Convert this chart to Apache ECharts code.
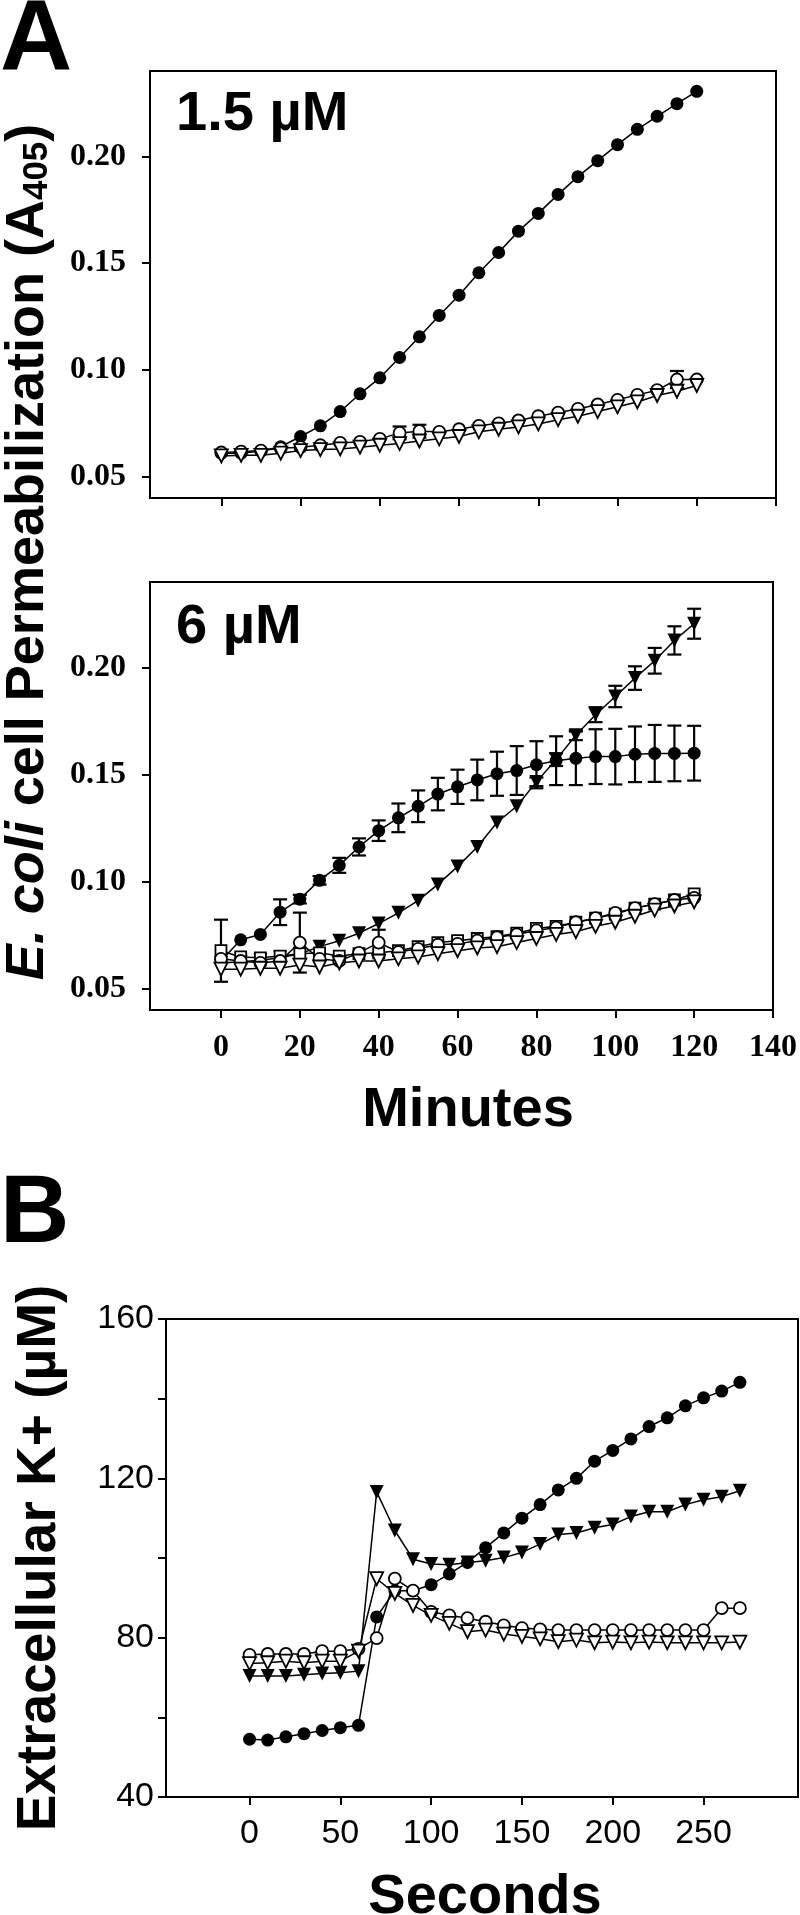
<!DOCTYPE html>
<html>
<head>
<meta charset="utf-8">
<script src="https://cdn.jsdelivr.net/npm/echarts@6/dist/echarts.min.js"></script>
<style>
  html, body { margin: 0; padding: 0; background: #fff; }
  #chart { width: 800px; height: 1915px; }
</style>
</head>
<body>
<div id="chart"></div>
<script>
// time points (minutes for panel A, seconds for panel B)
const tA = [0, 5, 10, 15, 20, 25, 30, 35, 40, 45, 50, 55, 60, 65, 70, 75, 80, 85, 90, 95, 100, 105, 110, 115, 120];
const tB = [0, 10, 20, 30, 40, 50, 60, 70, 80, 90, 100, 110, 120, 130, 140, 150, 160, 170, 180, 190, 200, 210, 220, 230, 240, 250, 260, 270];

const xTicksA = [0, 20, 40, 60, 80, 100, 120, 140];
const yTicksA = [0.05, 0.10, 0.15, 0.20];
const xTicksB = [0, 50, 100, 150, 200, 250];
const yLabelsB = [40, 80, 120, 160];
const yTicksB = [40, 60, 80, 100, 120, 140, 160];

// panel A, 1.5 uM
const a1Filled = [0.061, 0.061, 0.062, 0.064, 0.0688, 0.0738, 0.0805, 0.0888, 0.0963, 0.1058, 0.1155, 0.1255, 0.135, 0.1455, 0.155, 0.165, 0.1733, 0.1822, 0.1905, 0.198, 0.2055, 0.2127, 0.2188, 0.2247, 0.2305];
const a1OpenCircle = [0.0613, 0.0617, 0.0622, 0.0633, 0.0638, 0.0647, 0.0658, 0.0663, 0.0677, 0.0705, 0.0713, 0.071, 0.0722, 0.0738, 0.075, 0.0763, 0.0783, 0.08, 0.0817, 0.0838, 0.086, 0.0883, 0.0905, 0.0955, 0.0955];
const a1OpenCircleErr = [0, 0, 0, 0, 0, 0, 0, 0, 0, 0.003, 0.003, 0, 0, 0, 0, 0, 0, 0, 0, 0, 0, 0, 0, 0.004, 0];
const a1OpenTri = [0.0597, 0.06, 0.06, 0.061, 0.0622, 0.0627, 0.063, 0.0638, 0.0647, 0.0655, 0.0667, 0.0677, 0.0688, 0.071, 0.0722, 0.0733, 0.0747, 0.0767, 0.0783, 0.0805, 0.0827, 0.085, 0.088, 0.09, 0.0927];

// panel A, 6 uM
const a2Filled = [0.0629, 0.0728, 0.0753, 0.0857, 0.0918, 0.1006, 0.1076, 0.1162, 0.1238, 0.1298, 0.1352, 0.1409, 0.1443, 0.1475, 0.1504, 0.1519, 0.1546, 0.1565, 0.1576, 0.1584, 0.1584, 0.1595, 0.1599, 0.1599, 0.16];
const a2FilledErr = [0, 0, 0, 0.006, 0.002, 0.002, 0.0035, 0.004, 0.0048, 0.0067, 0.0074, 0.0076, 0.008, 0.0095, 0.0103, 0.0114, 0.011, 0.0114, 0.0125, 0.0128, 0.013, 0.013, 0.0133, 0.013, 0.0128];
const a2FilledTri = [0.062, 0.0625, 0.0633, 0.0644, 0.0663, 0.0696, 0.0724, 0.0759, 0.0804, 0.0854, 0.0911, 0.0987, 0.107, 0.1162, 0.1276, 0.1352, 0.1466, 0.157, 0.1684, 0.178, 0.1865, 0.1951, 0.2032, 0.2127, 0.2205];
const a2FilledTriErr = [0, 0, 0, 0, 0, 0, 0, 0, 0, 0, 0, 0, 0, 0, 0, 0, 0.002, 0.003, 0.0023, 0.0035, 0.005, 0.0055, 0.006, 0.0066, 0.007];
const a2OpenSquare = [0.0677, 0.0648, 0.0644, 0.0652, 0.0663, 0.0667, 0.0652, 0.0663, 0.0667, 0.0677, 0.0696, 0.0715, 0.0724, 0.0734, 0.0743, 0.0759, 0.0781, 0.0791, 0.081, 0.0829, 0.0848, 0.0876, 0.0895, 0.0914, 0.0943];
const a2OpenSquareErr = [0.0145, 0, 0, 0, 0, 0, 0, 0, 0, 0, 0, 0, 0, 0, 0, 0, 0, 0, 0, 0, 0, 0, 0, 0, 0];
const a2OpenCircle = [0.0639, 0.0629, 0.062, 0.0629, 0.0715, 0.0639, 0.0629, 0.0667, 0.0715, 0.0671, 0.0686, 0.0705, 0.0709, 0.0724, 0.074, 0.0753, 0.0772, 0.0785, 0.081, 0.0829, 0.0854, 0.0876, 0.0895, 0.0914, 0.0924];
const a2OpenCircleErr = [0, 0, 0, 0, 0.014, 0, 0, 0, 0.006, 0, 0, 0, 0, 0, 0, 0, 0, 0, 0, 0, 0, 0, 0, 0, 0];
const a2OpenTri = [0.0591, 0.0591, 0.0595, 0.0595, 0.061, 0.0601, 0.062, 0.0629, 0.0629, 0.0639, 0.0648, 0.0663, 0.0677, 0.069, 0.0696, 0.0715, 0.0734, 0.0753, 0.0766, 0.0791, 0.081, 0.0838, 0.0867, 0.0886, 0.0905];

// panel B, extracellular K+
const bFilled = [54.5, 54.3, 55.1, 55.9, 56.7, 57.4, 58.0, 85.2, 91.8, 91.8, 93.3, 96.0, 98.9, 102.6, 106.3, 110.0, 113.4, 117.1, 120.0, 124.3, 127.0, 129.9, 133.0, 135.2, 138.2, 140.2, 141.9, 144.1];
const bFilledTri = [70.4, 70.4, 70.4, 70.7, 71.0, 71.2, 71.6, 116.6, 106.9, 99.7, 98.5, 98.3, 98.9, 99.3, 100.1, 101.4, 103.5, 105.9, 106.3, 107.6, 108.4, 110.4, 111.6, 111.6, 113.4, 114.6, 115.4, 116.9];
const bOpenCircle = [75.7, 75.9, 75.9, 75.9, 76.6, 76.6, 77.2, 79.9, 94.8, 91.8, 86.5, 85.6, 84.9, 84.0, 83.1, 82.4, 82.1, 81.9, 81.9, 81.9, 81.9, 81.9, 81.9, 81.9, 81.9, 81.9, 87.4, 87.4];
const bOpenTri = [73.5, 73.7, 74.1, 73.7, 74.1, 74.1, 76.6, 94.8, 91.1, 88.1, 85.6, 83.6, 81.5, 81.9, 80.9, 80.3, 79.7, 79.0, 79.4, 78.7, 78.9, 78.7, 78.9, 78.7, 78.7, 78.7, 78.7, 78.9];

const sans = '"Liberation Sans", Arial, sans-serif';
const serif = '"Liberation Serif", "Times New Roman", serif';

function pts(t, v) {
	return t.map((x, i) => [x, v[i]]);
}

// one data line with its markers
function line(idx, t, v, symbol, filled, size, z) {
	return {
		type: 'line',
		xAxisIndex: idx,
		yAxisIndex: idx,
		data: pts(t, v),
		symbol: symbol,
		symbolSize: size,
		symbolRotate: symbol === 'triangle' ? 180 : 0,
		showSymbol: true,
		silent: true,
		animation: false,
		z: z || 2,
		lineStyle: {color: '#000', width: 1.5},
		itemStyle: {
			color: filled ? '#000' : '#fff',
			borderColor: '#000',
			borderWidth: filled ? 0 : 1.8
		}
	};
}

// error bars, only where an error was read
function errBars(idx, t, v, e) {
	const data = [];
	t.forEach((x, i) => {
		if (e[i] > 0) data.push([x, v[i], e[i]]);
	});
	return {
		type: 'custom',
		xAxisIndex: idx,
		yAxisIndex: idx,
		data: data,
		silent: true,
		animation: false,
		z: 1,
		encode: {x: 0, y: 1},
		renderItem: function (params, api) {
			const x = api.value(0), y = api.value(1), err = api.value(2);
			const hi = api.coord([x, y + err]);
			const lo = api.coord([x, y - err]);
			const w = 7;
			const st = {stroke: '#000', lineWidth: 2.2};
			return {
				type: 'group',
				children: [
					{type: 'line', shape: {x1: hi[0], y1: hi[1], x2: lo[0], y2: lo[1]}, style: st},
					{type: 'line', shape: {x1: hi[0] - w, y1: hi[1], x2: hi[0] + w, y2: hi[1]}, style: st},
					{type: 'line', shape: {x1: lo[0] - w, y1: lo[1], x2: lo[0] + w, y2: lo[1]}, style: st}
				]
			};
		}
	};
}

const axisLine = {show: true, onZero: false, lineStyle: {color: '#000', width: 2}};

function xAxisA(idx, labels) {
	return {
		type: 'value', gridIndex: idx, min: -18, max: 140,
		axisLine: axisLine,
		axisTick: {show: true, customValues: xTicksA, length: 8, inside: false, lineStyle: {color: '#000', width: 2}},
		axisLabel: {
			show: labels, customValues: xTicksA, margin: 22,
			color: '#000', fontFamily: serif, fontWeight: 'bold', fontSize: 32
		},
		splitLine: {show: false}
	};
}

function yAxisA(idx) {
	return {
		type: 'value', gridIndex: idx, min: 0.04, max: 0.24,
		axisLine: axisLine,
		axisTick: {show: true, customValues: yTicksA, length: 8, lineStyle: {color: '#000', width: 2}},
		axisLabel: {
			customValues: yTicksA, margin: 24,
			formatter: v => v.toFixed(2),
			color: '#000', fontFamily: serif, fontWeight: 'bold', fontSize: 32
		},
		splitLine: {show: false}
	};
}

const chartDom = document.getElementById('chart');
const myChart = echarts.init(chartDom, null, {renderer: 'canvas'});

const gridStyle = {show: true, borderColor: '#000', borderWidth: 2, backgroundColor: '#fff'};

let option = {
	backgroundColor: '#fff',
	animation: false,
	grid: [
		Object.assign({left: 150, top: 71, width: 626, height: 427}, gridStyle),
		Object.assign({left: 150, top: 582, width: 626, height: 428}, gridStyle),
		Object.assign({left: 166, top: 1319, width: 632, height: 478}, gridStyle)
	],
	xAxis: [
		xAxisA(0, false),
		xAxisA(1, true),
		{
			type: 'value', gridIndex: 2, min: -46, max: 302,
			axisLine: axisLine,
			axisTick: {show: true, customValues: xTicksB, length: 8, lineStyle: {color: '#000', width: 2}},
			axisLabel: {
				customValues: xTicksB, margin: 20,
				color: '#000', fontFamily: sans, fontSize: 34
			},
			splitLine: {show: false}
		}
	],
	yAxis: [
		yAxisA(0),
		yAxisA(1),
		{
			type: 'value', gridIndex: 2, min: 40, max: 160,
			axisLine: axisLine,
			axisTick: {show: true, customValues: yTicksB, length: 8, lineStyle: {color: '#000', width: 2}},
			axisLabel: {
				customValues: yLabelsB, margin: 12,
				color: '#000', fontFamily: sans, fontSize: 34
			},
			splitLine: {show: false}
		}
	],
	graphic: [
		{type: 'text', left: 0, top: -8, style: {text: 'A', font: 'bold 100px ' + sans, fill: '#000'}},
		{type: 'text', left: 0, top: 1168, style: {text: 'B', font: 'bold 96px ' + sans, fill: '#000'}},
		{type: 'text', x: 176, y: 115, style: {text: '1.5 µM', font: 'bold 56px ' + sans, fill: '#000', align: 'left', verticalAlign: 'middle'}},
		{type: 'text', x: 176, y: 628, style: {text: '6 µM', font: 'bold 56px ' + sans, fill: '#000', align: 'left', verticalAlign: 'middle'}},
		{type: 'text', x: 468, y: 1111, style: {text: 'Minutes', font: 'bold 56px ' + sans, fill: '#000', align: 'center', verticalAlign: 'middle'}},
		{type: 'text', x: 485, y: 1898, style: {text: 'Seconds', font: 'bold 56px ' + sans, fill: '#000', align: 'center', verticalAlign: 'middle'}},
		{
			type: 'text', x: 28, y: 552, rotation: Math.PI / 2,
			style: {
				text: '{i|E. coli} cell Permeabilization (A{sub|405})',
				font: 'bold 54px ' + sans, fill: '#000', align: 'center', verticalAlign: 'middle',
				rich: {
					i: {fontStyle: 'italic', fontWeight: 'bold', fontSize: 54, fontFamily: sans},
					sub: {fontWeight: 'bold', fontSize: 35, fontFamily: sans, verticalAlign: 'bottom', padding: [17, 0, 0, 0]}
				}
			}
		},
		{
			type: 'text', x: 40, y: 1558, rotation: Math.PI / 2,
			style: {text: 'Extracellular K+ (µM)', font: 'bold 55px ' + sans, fill: '#000', align: 'center', verticalAlign: 'middle'}
		}
	],
	series: [
		// 1.5 uM
		errBars(0, tA, a1OpenCircle, a1OpenCircleErr),
		line(0, tA, a1Filled, 'circle', true, 13),
		line(0, tA, a1OpenCircle, 'circle', false, 12, 3),
		line(0, tA, a1OpenTri, 'triangle', false, 13, 4),
		// 6 uM
		errBars(1, tA, a2Filled, a2FilledErr),
		errBars(1, tA, a2FilledTri, a2FilledTriErr),
		errBars(1, tA, a2OpenSquare, a2OpenSquareErr),
		errBars(1, tA, a2OpenCircle, a2OpenCircleErr),
		line(1, tA, a2Filled, 'circle', true, 13),
		line(1, tA, a2FilledTri, 'triangle', true, 14),
		line(1, tA, a2OpenSquare, 'rect', false, 11, 3),
		line(1, tA, a2OpenCircle, 'circle', false, 12, 3),
		line(1, tA, a2OpenTri, 'triangle', false, 13, 4),
		// K+ release
		line(2, tB, bFilled, 'circle', true, 13),
		line(2, tB, bFilledTri, 'triangle', true, 14),
		line(2, tB, bOpenCircle, 'circle', false, 12, 3),
		line(2, tB, bOpenTri, 'triangle', false, 13, 4)
	]
};

option && myChart.setOption(option);
</script>
</body>
</html>
